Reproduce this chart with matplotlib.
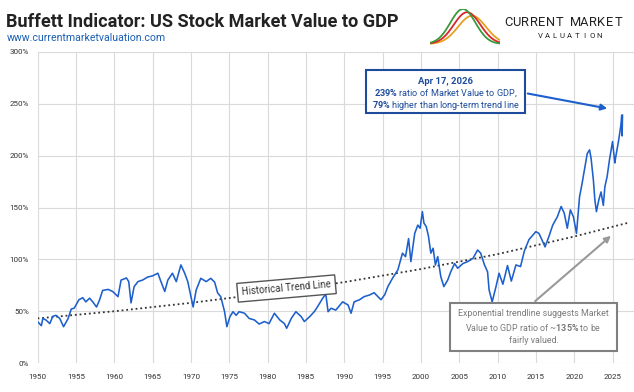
import numpy as np
import matplotlib
matplotlib.use("Agg")
import matplotlib.pyplot as plt
from matplotlib.patches import Rectangle, FancyArrowPatch

# ----------------------------
# Data
# ----------------------------

# Buffett indicator, market value / GDP in %
years = [1950.0, 1950.5, 1950.7, 1951.1, 1951.6, 1952.0, 1952.4, 1952.9, 1953.4, 1954.0,
         1954.4, 1954.8, 1955.4, 1955.9, 1956.3, 1956.8, 1957.2, 1957.7, 1958.1, 1958.5,
         1959.2, 1959.8, 1960.5, 1960.9, 1961.6, 1961.9, 1962.2, 1962.6, 1963.1, 1963.7,
         1964.4, 1965.0, 1965.7, 1966.1, 1966.6, 1967.0, 1967.6, 1968.1, 1968.7, 1969.2,
         1969.6, 1970.3, 1970.7, 1971.3, 1972.0, 1972.6, 1973.1, 1973.5, 1973.9, 1974.4,
         1974.7, 1975.1, 1975.5, 1975.9, 1976.3, 1977.0, 1977.6, 1978.3, 1978.9, 1979.6,
         1980.2, 1980.9, 1981.6, 1982.2, 1982.5, 1983.1, 1983.7, 1984.4, 1984.8, 1985.5,
         1986.1, 1986.5, 1987.2, 1987.6, 1987.9, 1988.3, 1988.9, 1989.8, 1990.5, 1990.9,
         1991.3, 1992.0, 1992.6, 1993.3, 1993.9, 1994.8, 1995.3, 1995.7, 1996.3, 1997.0,
         1997.6, 1998.0, 1998.4, 1998.7, 1999.2, 1999.6, 1999.9, 2000.2, 2000.4, 2000.7,
         2001.0, 2001.3, 2001.6, 2001.9, 2002.2, 2002.6, 2003.0, 2003.5, 2003.9, 2004.4,
         2004.8, 2005.5, 2006.1, 2006.8, 2007.4, 2007.8, 2008.3, 2008.7, 2008.9, 2009.3,
         2009.8, 2010.2, 2010.7, 2011.3, 2011.8, 2012.4, 2013.0, 2013.5, 2014.1, 2015.0,
         2015.4, 2015.8, 2016.2, 2016.7, 2017.2, 2017.8, 2018.3, 2018.7, 2019.1, 2019.5,
         2019.9, 2020.3, 2020.7, 2021.0, 2021.4, 2021.7, 2022.0, 2022.2, 2022.5, 2022.7,
         2022.9, 2023.2, 2023.5, 2023.8, 2024.0, 2024.3, 2024.6, 2025.0, 2025.3, 2025.4,
         2025.8, 2026.1, 2026.2, 2026.25, 2026.3]
ratio = [40, 36, 43, 41.5, 38, 45, 46, 43, 35, 43,
         52, 53, 61, 63, 59, 62.5, 59, 54, 61, 70,
         71, 69, 64, 80, 82, 78.5, 58, 73.6, 78.5, 80,
         83, 84, 86.6, 78.5, 69, 80, 86.6, 78.5, 94.6, 86.6,
         78.5, 54, 70.5, 81.7, 78.5, 81.7, 78, 67.5, 64, 49.5,
         35, 44.7, 49.5, 46, 49.5, 48, 43, 41.5, 37.6, 40,
         38, 48, 41.5, 38, 33.5, 43, 49.5, 44.7, 40, 44.7,
         49.5, 54, 62.5, 66.6, 49.5, 52.8, 51, 59, 56, 48,
         59, 61, 64, 65.6, 67.8, 61, 66, 73.7, 81.7, 89.8,
         105.9, 102.6, 120, 97.8, 125, 133, 130, 146, 135, 131.6,
         122, 106, 110.7, 94.6, 102.6, 83.3, 73.7, 80, 88, 96,
         91.4, 96, 97.8, 101, 109, 106, 94.6, 88, 70.5, 59,
         73.7, 86.6, 76, 94, 79, 94.6, 93, 108, 119, 126.7,
         125, 118.7, 112, 122, 133, 141, 151, 144.5, 130, 147.7,
         141, 125, 160.5, 172, 189.5, 202, 205.6, 197.6, 176.6, 157,
         146, 157, 165, 152, 170, 180, 196, 213.6, 193, 198,
         215, 230, 239, 219, 239]

# exponential trend line, read at a few points
trend_years = [1950, 1960, 1970, 1980, 1990, 2000, 2010, 2020, 2026.9]
trend_ratio = [43, 49.9, 58, 67.3, 78, 90.6, 105, 122, 135]

x_ticks = list(range(1950, 2030, 5))
y_ticks = [0, 50, 100, 150, 200, 250, 300]
y_labels = [str(v) + "%" for v in y_ticks]

# ----------------------------
# Figure
# ----------------------------

plt.rcParams['font.family'] = ['Roboto', 'DejaVu Sans']
plt.rcParams['mathtext.fontset'] = 'custom'
plt.rcParams['mathtext.rm'] = 'Roboto'
plt.rcParams['mathtext.bf'] = 'Roboto:bold'

W, H = 634, 392
fig = plt.figure(figsize=(W / 100, H / 100), dpi=100)

def fx(px):
    return px / W

def fy(py):
    return 1 - py / H

line_blue = '#1d5fcc'
box_blue = '#1d4c9c'
grey = '#808080'

ax = fig.add_axes([fx(37.5), fy(363), fx(634) - fx(37.5), fy(52) - fy(363)])
ax.plot(years, ratio, color=line_blue, lw=1.15, zorder=3)
ax.plot(trend_years, trend_ratio, color='#333333', lw=1.3, ls=(0, (1, 1.6)), zorder=2)

ax.set_xlim(1950, 2027.8)
ax.set_ylim(0, 300)
ax.set_xticks(x_ticks)
ax.set_yticks(y_ticks)
ax.set_yticklabels(y_labels)
ax.tick_params(length=0, labelsize=5.8, colors='#333333')
ax.tick_params(axis='x', pad=8)
ax.tick_params(axis='y', pad=6)
ax.grid(color='#dadada', lw=0.8)
ax.set_axisbelow(True)
for s in ax.spines.values():
    s.set_visible(False)

# ----------------------------
# Header
# ----------------------------

fig.text(fx(6), fy(27), "Buffett Indicator: US Stock Market Value to GDP",
         fontsize=13.1, fontweight='bold', color='#222222', va='baseline')
fig.text(fx(7), fy(41), "www.currentmarketvaluation.com",
         fontsize=7.6, color='#1a5fb4', va='baseline')

# logo: three bell curves
lax = fig.add_axes([fx(430), fy(45), fx(70), fy(9) - fy(45)])
lx = np.linspace(0, 1, 100)
for c, mu, hgt, sd in [('#e8a020', 0.60, 0.78, 0.2), ('#d8262c', 0.53, 0.88, 0.19),
                       ('#3a9a3a', 0.47, 0.97, 0.18)]:
    lax.plot(lx, 0.03 + hgt * np.exp(-((lx - mu) / sd) ** 2 / 2), color=c, lw=1.3)
lax.set_xlim(0, 1)
lax.set_ylim(0, 1.0)
lax.axis('off')

for i, ch in enumerate("CURRENT MARKET"):
    fig.text(fx(508 + i * 8.5), fy(26), ch, fontsize=9.3, color='#222222',
             ha='center', va='baseline')
for i, ch in enumerate("VALUATION"):
    fig.text(fx(540 + i * 7.4), fy(38.5), ch, fontsize=5.6, color='#222222',
             ha='center', va='baseline')

# ----------------------------
# Annotations
# ----------------------------

fig.add_artist(Rectangle((fx(366), fy(113)), fx(525) - fx(366), fy(70) - fy(113),
                         transform=fig.transFigure, fc='white', ec=box_blue, lw=1.5, zorder=5))
fig.text(fx(445.5), fy(84), "Apr 17, 2026", ha='center', va='baseline',
         fontsize=6.8, fontweight='bold', color=box_blue, zorder=6)
fig.text(fx(445.5), fy(96), "$\\mathbf{239\\%}$ ratio of Market Value to GDP,",
         ha='center', va='baseline', fontsize=6.6, color=box_blue, zorder=6)
fig.text(fx(445.5), fy(107.5), "$\\mathbf{79\\%}$ higher than long-term trend line",
         ha='center', va='baseline', fontsize=6.6, color=box_blue, zorder=6)
fig.add_artist(FancyArrowPatch((fx(525), fy(93)), (fx(610), fy(109)),
                               transform=fig.transFigure, arrowstyle='-|>',
                               mutation_scale=9, color=line_blue, lw=1.5, zorder=6))

fig.add_artist(Rectangle((fx(450), fy(351)), fx(617) - fx(450), fy(303) - fy(351),
                         transform=fig.transFigure, fc='white', ec=grey, lw=1.5, zorder=5))
fig.text(fx(533.5), fy(327),
         "Exponential trendline suggests Market\n"
         "Value to GDP ratio of ~$\\mathbf{135\\%}$ to be\n"
         "fairly valued.",
         ha='center', va='center', multialignment='center', fontsize=6.4,
         color='#7a7a7a', linespacing=1.45, zorder=6)
fig.add_artist(FancyArrowPatch((fx(533), fy(303)), (fx(613), fy(234)),
                               transform=fig.transFigure, arrowstyle='-|>',
                               mutation_scale=9, color='#999999', lw=1.5, zorder=6))

fig.text(fx(286.5), fy(288.5), "Historical Trend Line", rotation=5, rotation_mode='anchor',
         ha='center', va='center', fontsize=7, color='#333333', zorder=6,
         bbox=dict(boxstyle='square,pad=0.45', fc='white', ec='#555555', lw=1))

fig.savefig("out.png", dpi=100)
